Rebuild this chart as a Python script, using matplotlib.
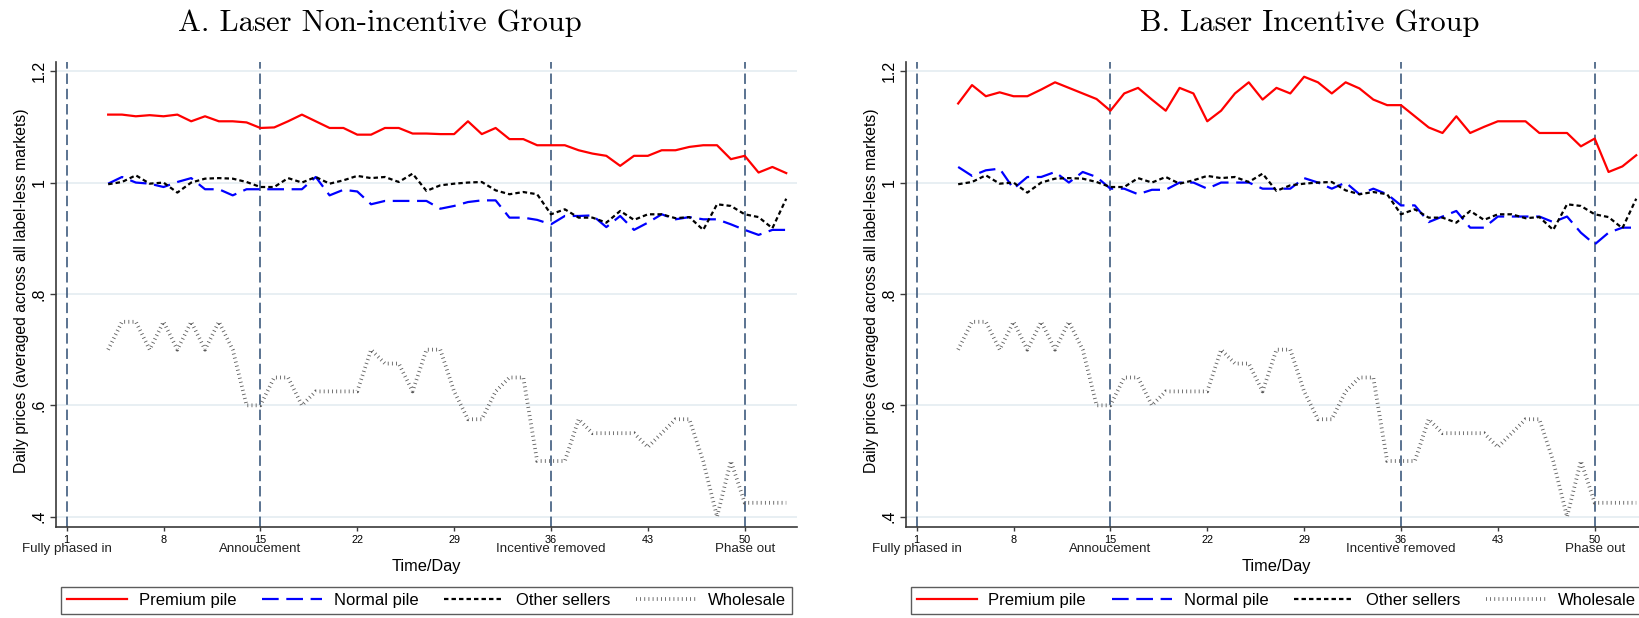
import matplotlib
matplotlib.use("Agg")
import matplotlib.pyplot as plt
from matplotlib.transforms import blended_transform_factory

plt.rcParams['font.family'] = ['Liberation Sans', 'DejaVu Sans']
plt.rcParams['lines.scale_dashes'] = False

# ---------------- data ----------------
days = list(range(4, 54))

premium_nonincentive = [1.122, 1.122, 1.119, 1.121, 1.119, 1.122, 1.110, 1.119, 1.110, 1.110,
                        1.108, 1.098, 1.099, 1.110, 1.122, 1.110, 1.098, 1.098, 1.086, 1.086,
                        1.098, 1.098, 1.088,
                        1.088, 1.087, 1.087, 1.110, 1.087, 1.098, 1.078, 1.078, 1.067, 1.067,
                        1.067, 1.058, 1.052, 1.048, 1.030, 1.048, 1.048, 1.058, 1.058, 1.064,
                        1.067, 1.067, 1.042, 1.048, 1.018, 1.028, 1.017]
normal_nonincentive = [0.998, 1.010, 1.000, 0.998, 0.992, 1.001, 1.008, 0.988, 0.988, 0.977,
                       0.988, 0.988, 0.988, 0.988, 0.988, 1.010, 0.977, 0.987, 0.984, 0.961,
                       0.967, 0.967, 0.967,
                       0.967, 0.953, 0.958, 0.965, 0.968, 0.968, 0.937, 0.937, 0.933, 0.925,
                       0.940, 0.940, 0.941, 0.920, 0.940, 0.915, 0.928, 0.943, 0.934, 0.938,
                       0.934, 0.934, 0.925, 0.915, 0.906, 0.915, 0.915]

premium_incentive = [1.142, 1.175, 1.155, 1.162, 1.155, 1.155, 1.167, 1.180, 1.170, 1.160,
                     1.150, 1.129, 1.160, 1.170, 1.149, 1.129, 1.170, 1.160, 1.110, 1.129,
                     1.160,
                     1.180, 1.149, 1.170, 1.160, 1.190, 1.180, 1.160, 1.180, 1.169, 1.149,
                     1.139, 1.139, 1.119, 1.099, 1.089, 1.119, 1.089, 1.100, 1.110, 1.110,
                     1.110, 1.089, 1.089, 1.089, 1.065, 1.079, 1.019, 1.029, 1.049]
normal_incentive = [1.028, 1.012, 1.022, 1.025, 0.989, 1.010, 1.010, 1.019, 1.000, 1.019,
                    1.010, 0.989, 0.989, 0.979, 0.987, 0.987, 1.000, 1.000, 0.989, 1.000,
                    1.000,
                    1.000, 0.989, 0.989, 0.989, 1.008, 1.000, 0.989, 1.000, 0.979, 0.989,
                    0.979, 0.959, 0.959, 0.929, 0.939, 0.949, 0.919, 0.919, 0.939, 0.939,
                    0.939, 0.939, 0.929, 0.939, 0.910, 0.889, 0.910, 0.919, 0.919]

other_sellers = [0.997, 1.001, 1.013, 0.998, 1.000, 0.982, 1.000, 1.007, 1.008, 1.007,
                 1.001, 0.992, 0.992, 1.008, 1.000, 1.010, 0.998, 1.004, 1.012, 1.008,
                 1.010, 1.001, 1.016,
                 0.985, 0.995, 0.998, 1.000, 1.001, 0.986, 0.979, 0.983, 0.979, 0.943,
                 0.952, 0.937, 0.937, 0.928, 0.949, 0.933, 0.943, 0.943, 0.936, 0.938,
                 0.915, 0.961, 0.958, 0.943, 0.938, 0.918, 0.971]
wholesale = [0.70, 0.75, 0.75, 0.70, 0.75, 0.70, 0.75, 0.70, 0.75, 0.70,
             0.60, 0.60, 0.65, 0.65, 0.60, 0.625, 0.625, 0.625, 0.625, 0.70,
             0.675, 0.675, 0.625, 0.70, 0.70, 0.625, 0.575, 0.575, 0.625, 0.65,
             0.65, 0.50, 0.50, 0.50, 0.575, 0.55, 0.55, 0.55, 0.55, 0.525,
             0.55, 0.575, 0.575, 0.50, 0.40, 0.50, 0.425, 0.425, 0.425, 0.425]

xticks = [1, 8, 15, 22, 29, 36, 43, 50]
event_days = [1, 15, 36, 50]
event_labels = ["Fully phased in", "Annoucement", "Incentive removed", "Phase out"]
yticks = [0.4, 0.6, 0.8, 1.0, 1.2]
ytick_labels = [".4", ".6", ".8", "1", "1.2"]
series_names = ["Premium pile", "Normal pile", "Other sellers", "Wholesale"]
titles = ["A. Laser Non-incentive Group", "B. Laser Incentive Group"]

# ---------------- figure ----------------
W, H = 1640, 618
fig = plt.figure(figsize=(W / 100, H / 100), dpi=100)

ax_w = 741.3 / W
ax_h = 465.6 / H
ax_b = 1 - 527.3 / H
panels = [
    dict(left=56 / W, prem=premium_nonincentive, norm=normal_nonincentive,
         leg_x=61.3 / W, title_x=380 / W),
    dict(left=906 / W, prem=premium_incentive, norm=normal_incentive,
         leg_x=911 / W, title_x=1310 / W),
]

vline_color = '#2d4d73'
grid_color = '#e6eef2'
spine_color = '#3a3a3a'

for i, p in enumerate(panels):
    ax = fig.add_axes([p['left'], ax_b, ax_w, ax_h])
    ax.set_xlim(0.23, 53.8)
    ax.set_ylim(0.381, 1.217)

    for yv in yticks:
        ax.axhline(yv, color=grid_color, lw=1.3, zorder=0)

    for d in event_days:
        ax.axvline(d, color=vline_color, lw=1.1, dashes=(7.5, 3.5), zorder=1)

    l1, = ax.plot(days, p['prem'], color='#ff0000', lw=1.6, zorder=3,
                  label=series_names[0])
    l2, = ax.plot(days, p['norm'], color='#0000ff', lw=1.6, dashes=(12, 5.5),
                  zorder=3, label=series_names[1])
    l3, = ax.plot(days, other_sellers, color='#000000', lw=1.6, dashes=(3.2, 2.2),
                  zorder=3, label=series_names[2])
    l4, = ax.plot(days, wholesale, color='#5a5a5a', lw=2.7, dashes=(0.6, 2.4),
                  dash_capstyle='butt', solid_joinstyle='round', zorder=2,
                  label=series_names[3])

    for s in ['top', 'right']:
        ax.spines[s].set_visible(False)
    for s in ['left', 'bottom']:
        ax.spines[s].set_color(spine_color)
        ax.spines[s].set_linewidth(1.2)

    ax.set_yticks(yticks)
    ax.set_yticklabels(ytick_labels, fontsize=11.5, rotation=90, va='center')
    ax.tick_params(axis='y', length=4, width=1, color=spine_color, pad=3)

    ax.set_xticks(xticks)
    ax.set_xticklabels([str(t) for t in xticks], fontsize=7.8)
    ax.tick_params(axis='x', length=3, width=1, color=spine_color, pad=2.3)

    trans = blended_transform_factory(ax.transData, ax.transAxes)
    for d, lab in zip(event_days, event_labels):
        ax.annotate(lab, xy=(d, 0), xycoords=trans, xytext=(0, -15.8),
                    textcoords='offset points', ha='center', va='center',
                    fontsize=9.6, color='#222222')

    ax.text(0.5, -0.0846, 'Time/Day', transform=ax.transAxes, ha='center',
            va='center', fontsize=11.8)
    ax.set_ylabel('Daily prices (averaged across all label-less markets)', fontsize=11.3)
    ax.yaxis.set_label_coords(-0.0465, 0.508)
    ax.yaxis.label.set_va('center')

    leg = fig.legend(handles=[l1, l2, l3, l4], labels=series_names, ncol=4,
                     loc='center', mode='expand',
                     bbox_to_anchor=(p['leg_x'], 0.0016, 730.4 / W, 33 / H),
                     bbox_transform=fig.transFigure, fontsize=12,
                     frameon=True, fancybox=False, edgecolor='#333333',
                     handlelength=3.6, handletextpad=0.7, borderpad=0.35,
                     borderaxespad=0)
    leg.get_frame().set_linewidth(1.0)

    fig.text(p['title_x'], 1 - 23 / H, titles[i], ha='center', va='center',
             fontsize=22, family='cmr10')

fig.savefig('out.png', dpi=100, facecolor='white')
